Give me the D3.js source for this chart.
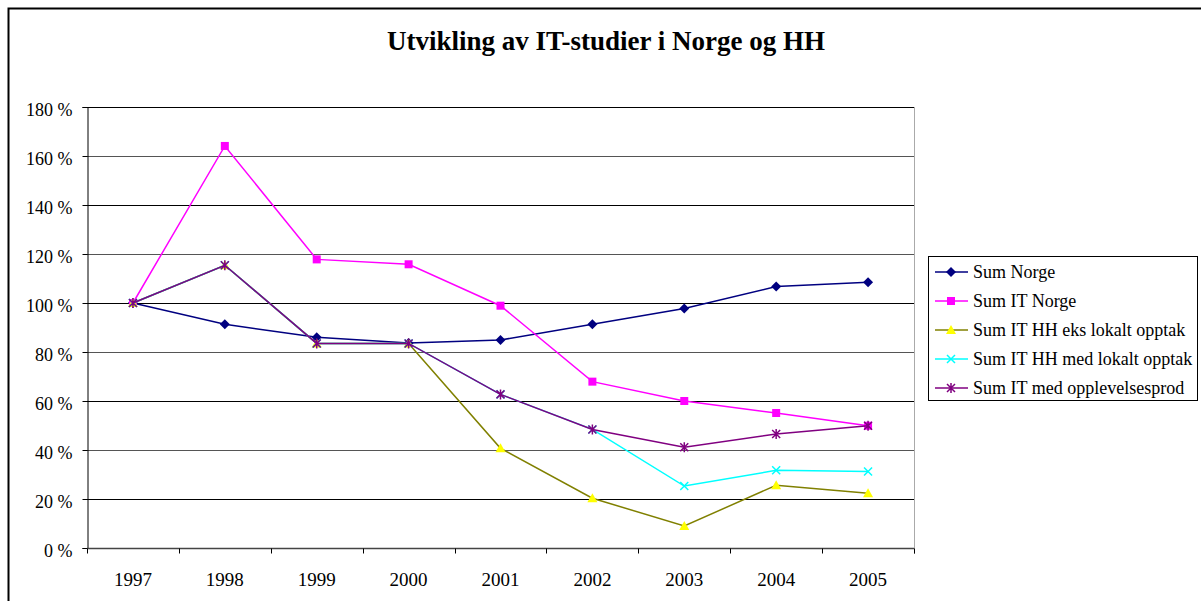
<!DOCTYPE html>
<html>
<head>
<meta charset="utf-8">
<script src="https://cdn.jsdelivr.net/npm/d3@7"></script>
<style>
  body { margin: 0; background: #fff; }
</style>
</head>
<body>
<div id="chart"></div>
<script>
// data (percent of 1997 level)
const years = ["1997", "1998", "1999", "2000", "2001", "2002", "2003", "2004", "2005"];
const yTicks = [0, 20, 40, 60, 80, 100, 120, 140, 160, 180];
const sumNorge = [100, 91.3, 86.0, 83.7, 84.9, 91.3, 97.8, 106.7, 108.5];
const sumItNorge = [100, 164.1, 117.8, 115.8, 98.9, 67.9, 60.0, 55.1, 49.9];
const itHhEks = [100, 115.4, 83.5, 83.5, 40.7, 20.3, 9.0, 25.6, 22.3];
const itHhMed = [100, 115.4, 83.5, 83.5, 62.7, 48.4, 25.3, 31.7, 31.2];
const itOpplevelse = [100, 115.4, 83.5, 83.5, 62.7, 48.4, 41.1, 46.5, 49.9];

const series = [
  {name: "Sum Norge", values: sumNorge, line: "#000080", fill: "#000080", mark: "diamond"},
  {name: "Sum IT Norge", values: sumItNorge, line: "#FF00FF", fill: "#FF00FF", mark: "square"},
  {name: "Sum IT HH eks lokalt opptak", values: itHhEks, line: "#808000", fill: "#FFFF00", mark: "triangle"},
  {name: "Sum IT HH med lokalt opptak", values: itHhMed, line: "#00FFFF", fill: "#00FFFF", mark: "cross"},
  {name: "Sum IT med opplevelsesprod", values: itOpplevelse, line: "#800080", fill: "#800080", mark: "star"}
];

const FONT = "'Liberation Serif', 'Times New Roman', 'DejaVu Serif', serif";

const W = 1201, H = 601;
const margin = {top: 107, right: 287, bottom: 53, left: 87};
const width = W - margin.left - margin.right,
      height = H - margin.top - margin.bottom;

const svg = d3.select("#chart").append("svg")
    .attr("width", W)
    .attr("height", H)
    .attr("font-family", FONT);

// outer chart border (only left/top are visible in the picture)
svg.append("path")
    .attr("d", "M8.5," + H + "V8.5H" + W)
    .attr("fill", "none")
    .attr("stroke", "#000")
    .attr("stroke-width", 2);

svg.append("text")
    .attr("x", 606)
    .attr("y", 50)
    .attr("text-anchor", "middle")
    .attr("font-family", FONT)
    .attr("font-size", 27)
    .attr("font-weight", "bold")
    .text("Utvikling av IT-studier i Norge og HH");

const chart = svg.append("g")
    .attr("transform", "translate(" + margin.left + "," + margin.top + ")");

const x = d3.scaleBand().domain(years).range([0, width]);
const y = d3.scaleLinear().domain([0, 180]).range([height, 0]);

// grid lines
chart.append("g")
  .selectAll("line")
  .data(yTicks.filter(d => d > 0))
  .enter().append("line")
    .attr("x1", 0)
    .attr("x2", width)
    .attr("y1", d => Math.round(y(d)) + 0.5)
    .attr("y2", d => Math.round(y(d)) + 0.5)
    .attr("stroke", d => d % 40 === 0 ? "#555" : "#000")
    .attr("stroke-width", 1);

// right border of plot area
chart.append("line")
    .attr("x1", width + 0.5).attr("x2", width + 0.5)
    .attr("y1", 0).attr("y2", height + 6)
    .attr("stroke", "#aaa");

// y axis
const yAxis = chart.append("g")
    .attr("transform", "translate(0.5,0)")
    .call(d3.axisLeft(y).tickValues(yTicks).tickSize(5).tickPadding(10)
      .tickFormat(d => d + " %"));
yAxis.attr("font-family", FONT).attr("font-size", 18);
yAxis.select(".domain").attr("stroke", "#000");
yAxis.selectAll("text").attr("dy", "0.45em").style("font-family", FONT);

// x axis, ticks on category borders
const xAxis = chart.append("g")
    .attr("transform", "translate(0," + (height + 0.5) + ")")
    .call(d3.axisBottom(x).tickSize(0));
xAxis.attr("font-family", FONT).attr("font-size", 19);
xAxis.selectAll("text").attr("y", 37).attr("dy", 0).style("font-family", FONT);
xAxis.select(".domain").remove();
xAxis.append("line")
    .attr("x1", 0).attr("x2", width)
    .attr("stroke", "#444").attr("stroke-width", 1.5);
xAxis.selectAll(".border")
  .data(d3.range(years.length + 1))
  .enter().append("line")
    .attr("class", "border")
    .attr("x1", i => Math.round(i * x.step()) + 0.5)
    .attr("x2", i => Math.round(i * x.step()) + 0.5)
    .attr("y1", 0).attr("y2", 5)
    .attr("stroke", "#000");

function drawMarker(g, s) {
  if (s.mark === "diamond") {
    g.append("path").attr("d", "M0,-5L5,0L0,5L-5,0Z").attr("fill", s.fill);
  } else if (s.mark === "square") {
    g.append("rect").attr("x", -4).attr("y", -4).attr("width", 8).attr("height", 8).attr("fill", s.fill);
  } else if (s.mark === "triangle") {
    g.append("path").attr("d", "M0,-5L5,4L-5,4Z").attr("fill", s.fill);
  } else if (s.mark === "cross") {
    g.append("path").attr("d", "M-4,-4L4,4M-4,4L4,-4").attr("stroke", s.fill).attr("stroke-width", 1.5);
  } else {
    g.append("path").attr("d", "M-4,-4L4,4M-4,4L4,-4M0,-5V5").attr("stroke", s.fill).attr("stroke-width", 1.5);
  }
}

const line = d3.line()
    .x((d, i) => x(years[i]) + x.bandwidth() / 2)
    .y(d => y(d));

series.forEach(s => {
  const g = chart.append("g");
  g.append("path")
      .datum(s.values)
      .attr("d", line)
      .attr("fill", "none")
      .attr("stroke", s.line)
      .attr("stroke-width", 1.5);
  s.values.forEach((v, i) => {
    const m = g.append("g")
        .attr("transform", "translate(" + (x(years[i]) + x.bandwidth() / 2) + "," + y(v) + ")");
    drawMarker(m, s);
  });
});

// legend
const legend = svg.append("g").attr("transform", "translate(928,256)");
legend.append("rect")
    .attr("x", 0.5).attr("y", 0.5)
    .attr("width", 269).attr("height", 144)
    .attr("fill", "#fff")
    .attr("stroke", "#000");

const item = legend.selectAll(".item")
  .data(series)
  .enter().append("g")
    .attr("class", "item")
    .attr("transform", (d, i) => "translate(0," + (16 + i * 29) + ")");

item.append("line")
    .attr("x1", 7).attr("x2", 40)
    .attr("stroke", d => d.line)
    .attr("stroke-width", 1.5);
item.each(function(d) {
  drawMarker(d3.select(this).append("g").attr("transform", "translate(23,0)"), d);
});
item.append("text")
    .attr("x", 45)
    .attr("y", 6)
    .attr("font-family", FONT)
    .attr("font-size", 18)
    .text(d => d.name);
</script>
</body>
</html>
